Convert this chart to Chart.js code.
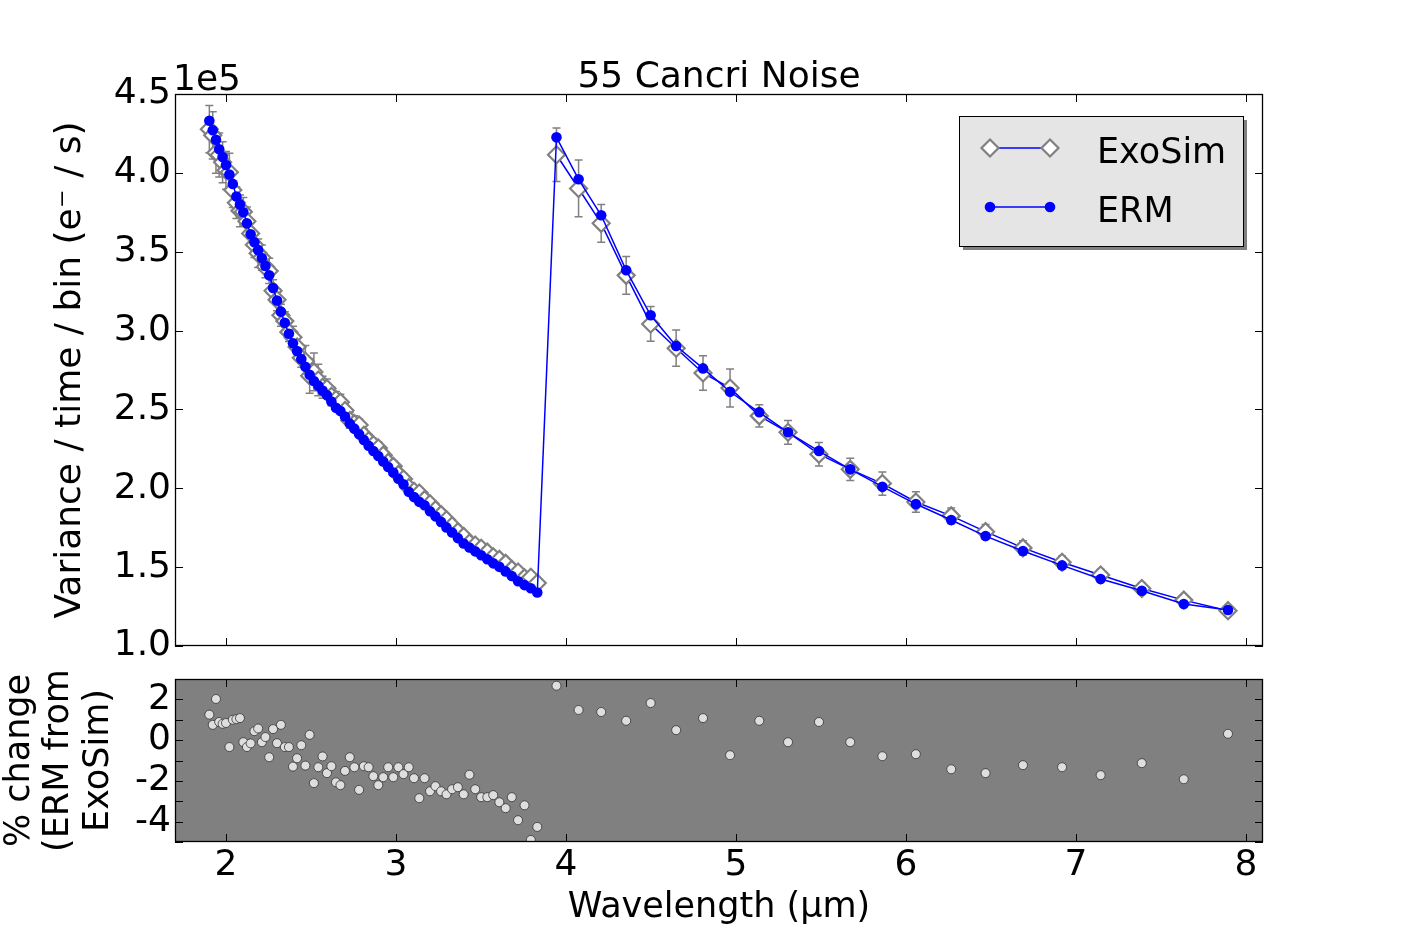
<!DOCTYPE html>
<html>
<head>
<meta charset="utf-8">
<title>55 Cancri Noise</title>
<script src="https://cdn.jsdelivr.net/npm/chart.js@4.4.1/dist/chart.umd.min.js"></script>
<style>
  body { margin: 0; background: #fff; }
  #wrap { position: relative; width: 1403px; height: 935px; }
  canvas { position: absolute; left: 0; top: 0; }
</style>
</head>
<body>
<div id="wrap">
  <canvas id="bottom" width="1403" height="935"></canvas>
  <canvas id="top" width="1403" height="935"></canvas>
</div>
<script>
// wavelengths (um), short channel and long channel
const wlShort = [1.902, 1.922, 1.941, 1.960, 1.980, 2.000, 2.020, 2.040, 2.061, 2.082,
  2.102, 2.123, 2.145, 2.167, 2.189, 2.211, 2.232, 2.254, 2.277, 2.300,
  2.323, 2.346, 2.370, 2.394, 2.418, 2.443, 2.467, 2.492, 2.517, 2.543,
  2.568, 2.594, 2.620, 2.647, 2.673, 2.700, 2.728, 2.755, 2.783, 2.811,
  2.839, 2.867, 2.896, 2.925, 2.954, 2.984, 3.014, 3.044, 3.075, 3.106,
  3.137, 3.168, 3.200, 3.232, 3.265, 3.297, 3.330, 3.364, 3.398, 3.432,
  3.466, 3.501, 3.537, 3.572, 3.608, 3.645, 3.681, 3.718, 3.756, 3.793, 3.831];
const wlLong = [3.944, 4.074, 4.207, 4.354, 4.498, 4.648, 4.806, 4.965, 5.137, 5.306, 5.488,
  5.672, 5.861, 6.058, 6.266, 6.468, 6.688, 6.918, 7.145, 7.387, 7.634, 7.894];

// variance / time / bin, in units of 1e5
const ermShort = [4.33, 4.27, 4.21, 4.15, 4.10, 4.05, 3.99, 3.93, 3.85, 3.80,
  3.75, 3.68, 3.61, 3.56, 3.51, 3.46, 3.41, 3.35, 3.27, 3.19,
  3.12, 3.05, 2.98, 2.92, 2.87, 2.82, 2.77, 2.72, 2.68, 2.65,
  2.62, 2.59, 2.55, 2.51, 2.49, 2.455, 2.41, 2.378, 2.342, 2.306,
  2.27, 2.236, 2.205, 2.17, 2.135, 2.10, 2.06, 2.025, 1.978, 1.944,
  1.914, 1.892, 1.854, 1.822, 1.787, 1.752, 1.72, 1.684, 1.65, 1.625,
  1.60, 1.575, 1.55, 1.524, 1.502, 1.473, 1.444, 1.411, 1.386, 1.366, 1.339];
const ermLong = [4.225, 3.959, 3.731, 3.382, 3.097, 2.902, 2.760, 2.612, 2.482, 2.355, 2.236,
  2.120, 2.010, 1.900, 1.799, 1.697, 1.602, 1.511, 1.425, 1.350, 1.266, 1.228];

const exoShort = [4.277, 4.238, 4.127, 4.113, 4.067, 4.016, 4.004, 3.891, 3.811, 3.759,
  3.754, 3.693, 3.616, 3.544, 3.490, 3.463, 3.405, 3.378, 3.252, 3.195,
  3.097, 3.060, 2.990, 2.958, 2.896, 2.827, 2.805, 2.713, 2.738, 2.686,
  2.641, 2.633, 2.583, 2.563, 2.546, 2.493, 2.430, 2.410, 2.401, 2.336,
  2.301, 2.276, 2.255, 2.210, 2.164, 2.139, 2.088, 2.059, 2.005, 1.981,
  1.970, 1.928, 1.902, 1.864, 1.833, 1.800, 1.762, 1.724, 1.695, 1.653,
  1.640, 1.620, 1.595, 1.566, 1.549, 1.524, 1.486, 1.469, 1.432, 1.436, 1.399];
const exoLong = [4.115, 3.901, 3.680, 3.350, 3.042, 2.888, 2.731, 2.636, 2.459, 2.355, 2.216,
  2.120, 2.030, 1.913, 1.825, 1.725, 1.622, 1.531, 1.450, 1.365, 1.291, 1.224];

// ExoSim error bars (1e5)
const errShort = [0.15, 0.15, 0.13, 0.14, 0.13, 0.12, 0.12, 0.11, 0.10, 0.10,
  0.09, 0.09, 0.08, 0.08, 0.09, 0.08, 0.07, 0.08, 0.07, 0.07,
  0.07, 0.06, 0.06, 0.07, 0.06, 0.06, 0.10, 0.11, 0.12, 0.10,
  0.07, 0.06, 0.06, 0.05, 0.05, 0.05, 0.05, 0.05, 0.04, 0.04,
  0.04, 0.04, 0.04, 0.04, 0.04, 0.035, 0.035, 0.035, 0.03, 0.03,
  0.03, 0.03, 0.03, 0.03, 0.03, 0.03, 0.03, 0.03, 0.03, 0.03,
  0.025, 0.025, 0.025, 0.025, 0.025, 0.025, 0.025, 0.025, 0.025, 0.025, 0.025];
const errLong = [0.17, 0.18, 0.12, 0.12, 0.11, 0.115, 0.11, 0.12, 0.07, 0.075, 0.075,
  0.07, 0.074, 0.065, 0.05, 0.045, 0.045, 0.04, 0.035, 0.035, 0.03, 0.03];

// % change (ERM from ExoSim)
const pctShort = [1.25, 0.75, 2.02, 0.89, 0.80, 0.84, -0.34, 1.00, 1.03, 1.08,
  -0.10, -0.34, -0.16, 0.44, 0.57, -0.10, 0.15, -0.84, 0.54, -0.15,
  0.75, -0.34, -0.34, -1.30, -0.89, -0.25, -1.25, 0.26, -2.11, -1.33,
  -0.80, -1.62, -1.28, -2.07, -2.21, -1.51, -0.84, -1.33, -2.44, -1.28,
  -1.33, -1.77, -2.21, -1.82, -1.33, -1.82, -1.33, -1.67, -1.33, -1.87,
  -2.85, -1.87, -2.51, -2.26, -2.51, -2.66, -2.41, -2.31, -2.66, -1.70,
  -2.41, -2.80, -2.80, -2.70, -3.05, -3.34, -2.80, -3.93, -3.20, -4.90, -4.26];
const pctLong = [2.67, 1.48, 1.38, 0.95, 1.82, 0.49, 1.08, -0.74, 0.95, -0.10, 0.89,
  -0.10, -0.79, -0.69, -1.43, -1.62, -1.23, -1.33, -1.72, -1.13, -1.92, 0.31];

const xTicks = [2, 3, 4, 5, 6, 7, 8];
const yTicksTop = [1.0, 1.5, 2.0, 2.5, 3.0, 3.5, 4.0, 4.5];
const yTicksBottom = [-5, -4, -3, -2, -1, 0, 1, 2, 3];

const FONT = 'DejaVu Sans';
const wlAll = wlShort.concat(wlLong);
const exoAll = exoShort.concat(exoLong);
const ermAll = ermShort.concat(ermLong);
const errAll = errShort.concat(errLong);
const pctAll = pctShort.concat(pctLong);

const setTicks = arr => scale => { scale.ticks = arr.map(v => ({ value: v })); };

// matplotlib style frame with ticks pointing inwards
const frame = {
  id: 'frame',
  beforeDraw(chart, args, opts) {
    if (!opts.bg) return;
    const a = chart.chartArea;
    chart.ctx.save();
    chart.ctx.fillStyle = opts.bg;
    chart.ctx.fillRect(a.left, a.top, a.right - a.left, a.bottom - a.top);
    chart.ctx.restore();
  },
  afterDraw(chart) {
    const { ctx, chartArea: a, scales: { x, y } } = chart;
    ctx.save();
    ctx.strokeStyle = '#000';
    ctx.lineWidth = 1;
    ctx.beginPath();
    x.ticks.forEach(t => {
      const px = Math.round(x.getPixelForValue(t.value)) + 0.5;
      ctx.moveTo(px, a.top); ctx.lineTo(px, a.top + 8);
      ctx.moveTo(px, a.bottom); ctx.lineTo(px, a.bottom - 8);
    });
    y.ticks.forEach(t => {
      const py = Math.round(y.getPixelForValue(t.value)) + 0.5;
      ctx.moveTo(a.left, py); ctx.lineTo(a.left + 8, py);
      ctx.moveTo(a.right, py); ctx.lineTo(a.right - 8, py);
    });
    ctx.stroke();
    ctx.lineWidth = 1.3;
    ctx.strokeRect(a.left + 0.5, a.top + 0.5, a.right - a.left - 1, a.bottom - a.top - 1);
    ctx.restore();
  }
};

const errorBars = {
  id: 'errorBars',
  beforeDatasetsDraw(chart) {
    const { ctx, chartArea: a, scales: { x, y } } = chart;
    ctx.save();
    ctx.beginPath();
    ctx.rect(a.left, a.top, a.right - a.left, a.bottom - a.top);
    ctx.clip();
    ctx.strokeStyle = '#808080';
    ctx.lineWidth = 1.5;
    ctx.beginPath();
    wlAll.forEach((w, i) => {
      const px = x.getPixelForValue(w);
      const hi = y.getPixelForValue(exoAll[i] + errAll[i]);
      const lo = y.getPixelForValue(exoAll[i] - errAll[i]);
      ctx.moveTo(px, hi); ctx.lineTo(px, lo);
      ctx.moveTo(px - 4, hi); ctx.lineTo(px + 4, hi);
      ctx.moveTo(px - 4, lo); ctx.lineTo(px + 4, lo);
    });
    ctx.stroke();
    ctx.restore();
  }
};

const extras = {
  id: 'extras',
  afterDraw(chart) {
    const { ctx, chartArea: a } = chart;
    ctx.save();
    ctx.fillStyle = '#000';

    // title, centred over the axes
    ctx.font = '36px "' + FONT + '"';
    ctx.textAlign = 'center';
    ctx.textBaseline = 'middle';
    ctx.fillText('55 Cancri Noise', (a.left + a.right) / 2, a.top - 16);

    // offset text of the y axis
    ctx.textAlign = 'left';
    ctx.textBaseline = 'alphabetic';
    ctx.fillText('1e5', a.left - 2, a.top - 4);

    // legend box with shadow
    const w = 284, h = 130;
    const x0 = a.right - 20 - w, y0 = a.top + 22;
    ctx.fillStyle = 'rgba(0,0,0,0.5)';
    ctx.fillRect(x0 + 4, y0 + 4, w, h);
    ctx.fillStyle = '#e5e5e5';
    ctx.fillRect(x0, y0, w, h);
    ctx.strokeStyle = '#000';
    ctx.lineWidth = 1;
    ctx.strokeRect(x0 + 0.5, y0 + 0.5, w, h);

    chart.data.datasets.forEach((ds, i) => {
      const cy = y0 + 32 + i * 59;
      const xa = x0 + 31, xb = x0 + 91;
      ctx.strokeStyle = ds.borderColor;
      ctx.lineWidth = ds.borderWidth;
      ctx.beginPath(); ctx.moveTo(xa, cy); ctx.lineTo(xb, cy); ctx.stroke();
      [xa, xb].forEach(px => {
        ctx.beginPath();
        const r = ds.pointRadius;
        if (ds.pointStyle === 'rectRot') {
          ctx.moveTo(px - r, cy); ctx.lineTo(px, cy - r);
          ctx.lineTo(px + r, cy); ctx.lineTo(px, cy + r);
          ctx.closePath();
        } else {
          ctx.arc(px, cy, r, 0, Math.PI * 2);
        }
        ctx.fillStyle = ds.pointBackgroundColor;
        ctx.fill();
        if (ds.pointBorderWidth) {
          ctx.strokeStyle = ds.pointBorderColor;
          ctx.lineWidth = ds.pointBorderWidth;
          ctx.stroke();
        }
      });
      ctx.fillStyle = '#000';
      ctx.font = '35px "' + FONT + '"';
      ctx.textBaseline = 'middle';
      ctx.fillText(ds.label, x0 + 138, cy + 6);
    });
    ctx.restore();
  }
};

new Chart(document.getElementById('top'), {
  type: 'line',
  data: {
    datasets: [{
      label: 'ExoSim',
      data: wlAll.map((w, i) => ({ x: w, y: exoAll[i] })),
      borderColor: '#0000ff',
      borderWidth: 1.5,
      pointStyle: 'rectRot',
      pointRadius: 8.5,
      pointBackgroundColor: '#ffffff',
      pointBorderColor: '#808080',
      pointBorderWidth: 2.2,
      tension: 0,
      order: 1,
      segment: {
        borderColor: ctx => ctx.p0DataIndex === wlShort.length - 1 ? 'rgba(0,0,0,0)' : undefined
      }
    }, {
      label: 'ERM',
      data: wlAll.map((w, i) => ({ x: w, y: ermAll[i] })),
      borderColor: '#0000ff',
      borderWidth: 1.5,
      pointStyle: 'circle',
      pointRadius: 5.3,
      pointBackgroundColor: '#0000ff',
      pointBorderColor: '#0000ff',
      pointBorderWidth: 0,
      tension: 0,
      order: 0
    }]
  },
  options: {
    responsive: false,
    animation: false,
    layout: { padding: { left: 0, right: 140, top: 94, bottom: 0 } },
    plugins: {
      legend: { display: false },
      tooltip: { enabled: false }
    },
    scales: {
      x: {
        type: 'linear',
        min: 1.7,
        max: 8.1,
        afterBuildTicks: setTicks(xTicks),
        afterFit: s => { s.height = 289; },
        ticks: { display: false },
        grid: { display: false, drawTicks: false },
        border: { display: false }
      },
      y: {
        type: 'linear',
        min: 1.0,
        max: 4.5,
        afterBuildTicks: setTicks(yTicksTop),
        afterFit: s => { s.width = 175; },
        ticks: {
          color: '#000',
          padding: 4,
          autoSkip: false,
          font: { family: FONT, size: 36 },
          callback: v => v.toFixed(1)
        },
        grid: { display: false, drawTicks: false },
        border: { display: false },
        title: {
          display: true,
          text: 'Variance / time / bin (e\u207B / s)',
          color: '#000',
          font: { family: FONT, size: 36 },
          padding: { top: 49, bottom: 0 }
        }
      }
    }
  },
  plugins: [errorBars, frame, extras]
});

new Chart(document.getElementById('bottom'), {
  type: 'scatter',
  data: {
    datasets: [{
      label: '% change',
      data: wlAll.map((w, i) => ({ x: w, y: pctAll[i] })),
      pointRadius: 4.5,
      pointBackgroundColor: '#dedede',
      pointBorderColor: '#333333',
      pointBorderWidth: 0.8
    }]
  },
  options: {
    responsive: false,
    animation: false,
    layout: { padding: { left: 0, right: 140, top: 679, bottom: 0 } },
    plugins: {
      legend: { display: false },
      tooltip: { enabled: false },
      frame: { bg: '#808080' }
    },
    scales: {
      x: {
        type: 'linear',
        min: 1.7,
        max: 8.1,
        afterBuildTicks: setTicks(xTicks),
        afterFit: s => { s.height = 93; },
        ticks: { color: '#000', padding: 2, maxRotation: 0, font: { family: FONT, size: 36 } },
        grid: { display: false, drawTicks: false },
        border: { display: false },
        title: {
          display: true,
          text: 'Wavelength (\u03BCm)',
          color: '#000',
          font: { family: FONT, size: 35 },
          padding: { top: 0, bottom: 6 }
        }
      },
      y: {
        type: 'linear',
        min: -5,
        max: 3,
        afterBuildTicks: setTicks(yTicksBottom),
        afterFit: s => { s.width = 175; },
        ticks: {
          color: '#000',
          padding: 4,
          autoSkip: false,
          font: { family: FONT, size: 36 },
          callback: v => (v % 2 === 0 ? String(v) : '')
        },
        grid: { display: false, drawTicks: false },
        border: { display: false },
        title: {
          display: true,
          text: ['% change', '(ERM from', 'ExoSim)'],
          color: '#000',
          font: { family: FONT, size: 35, lineHeight: 1.13 },
          padding: { top: 0, bottom: 0 }
        }
      }
    }
  },
  plugins: [frame]
});
</script>
</body>
</html>
